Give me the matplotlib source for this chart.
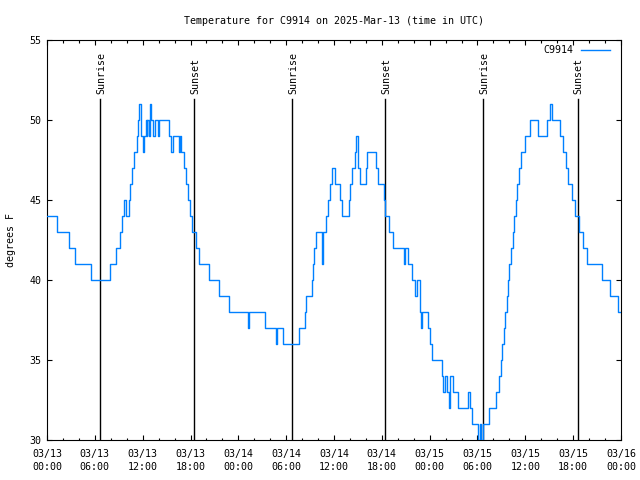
import matplotlib
matplotlib.use("Agg")
import matplotlib.pyplot as plt
from matplotlib.ticker import MultipleLocator

# Temperature change points for C9914
# hours after 2025-03-13 00:00 UTC, temperature in degrees F
hours = [0.0, 1.25, 2.75, 3.55, 5.55, 7.95, 8.65, 9.15, 9.35, 9.6,
         9.85, 10.25, 10.4, 10.65, 10.95, 11.25, 11.45, 11.6, 11.75, 12.05,
         12.2, 12.4, 12.5, 12.6, 12.75, 12.95, 13.1, 13.25, 13.6, 13.9,
         14.05, 15.3, 15.6, 15.75, 16.6, 16.7, 16.85, 17.15, 17.4, 17.65,
         17.9, 18.25, 18.7, 19.1, 20.35, 21.55, 22.85, 25.25, 25.4, 27.3,
         28.7, 28.85, 29.55, 31.6, 32.35, 32.5, 33.2, 33.35, 33.5, 33.7,
         34.45, 34.65, 34.95, 35.25, 35.5, 35.75, 36.1, 36.8, 37.0, 37.85,
         38.0, 38.3, 38.6, 38.8, 38.95, 39.05, 39.3, 40.0, 40.15, 41.25,
         41.5, 42.3, 42.45, 42.95, 43.4, 44.75, 44.9, 45.3, 45.8, 46.15,
         46.4, 46.75, 46.85, 46.95, 47.05, 47.8, 48.05, 48.35, 49.55, 49.7,
         49.9, 50.2, 50.45, 50.6, 50.95, 51.6, 52.75, 53.05, 53.3, 54.1,
         54.3, 54.4, 54.7, 55.4, 56.35, 56.65, 56.95, 57.1, 57.3, 57.5,
         57.65, 57.85, 58.0, 58.2, 58.4, 58.6, 58.8, 59.0, 59.2, 59.5,
         59.9, 60.6, 61.55, 62.75, 63.1, 63.4, 64.4, 64.75, 65.1, 65.4,
         65.8, 66.25, 66.7, 67.2, 67.7, 69.6, 70.6, 71.6, 72.0]
temps = [44, 43, 42, 41, 40, 41, 42, 43, 44, 45,
         44, 45, 46, 47, 48, 49, 50, 51, 49, 48,
         49, 50, 49, 50, 49, 51, 50, 49, 50, 49,
         50, 49, 48, 49, 48, 49, 48, 47, 46, 45,
         44, 43, 42, 41, 40, 39, 38, 37, 38, 37,
         36, 37, 36, 37, 38, 39, 40, 41, 42, 43,
         41, 43, 44, 45, 46, 47, 46, 45, 44, 45,
         46, 47, 48, 49, 48, 47, 46, 47, 48, 47,
         46, 45, 44, 43, 42, 41, 42, 41, 40, 39,
         40, 39, 38, 37, 38, 37, 36, 35, 34, 33,
         34, 33, 32, 34, 33, 32, 33, 32, 31, 30,
         31, 30, 31, 32, 33, 34, 35, 36, 37, 38,
         39, 40, 41, 42, 43, 44, 45, 46, 47, 48,
         49, 50, 49, 50, 51, 50, 49, 48, 47, 46,
         45, 44, 43, 42, 41, 40, 39, 38, 38]

sunrise = [6.7, 30.75, 54.72]
sunset = [18.45, 42.45, 66.55]

tick_hours = list(range(0, 73, 6))
tick_labels = ["03/13\n00:00", "03/13\n06:00", "03/13\n12:00", "03/13\n18:00",
               "03/14\n00:00", "03/14\n06:00", "03/14\n12:00", "03/14\n18:00",
               "03/15\n00:00", "03/15\n06:00", "03/15\n12:00", "03/15\n18:00",
               "03/16\n00:00"]

plt.rcParams['font.family'] = 'DejaVu Sans Mono'
plt.rcParams['font.size'] = 7.2

fig = plt.figure(figsize=(6.4, 4.8), dpi=100)
ax = fig.add_axes([47 / 640, 40 / 480, 574 / 640, 400 / 480])

ax.plot(hours, temps, drawstyle='steps-post', color='#0080ff', lw=1.0,
        label='C9914', zorder=3)

line_top = 51.3
for name, times in (("Sunrise", sunrise), ("Sunset", sunset)):
    for t in times:
        ax.plot([t, t], [30, line_top], color='black', lw=1.0, zorder=2)
        ax.annotate(name, (t, line_top), xytext=(1, 5), textcoords='offset pixels',
                    rotation=90, ha='center', va='bottom')

ax.set_xlim(0, 72)
ax.set_ylim(30, 55)
ax.set_xticks(tick_hours)
ax.set_xticklabels(tick_labels, linespacing=1.35)
ax.xaxis.set_minor_locator(MultipleLocator(2))
ax.set_yticks(range(30, 56, 5))
ax.tick_params(which='both', direction='in', top=True, right=True, width=0.8)
ax.tick_params(which='major', length=3.6)
ax.tick_params(which='minor', length=1.8)
ax.tick_params(axis='x', pad=6.5)
ax.tick_params(axis='y', pad=4)
for s in ax.spines.values():
    s.set_linewidth(0.8)

ax.set_ylabel("degrees F", labelpad=10)
ax.set_title("Temperature for C9914 on 2025-Mar-13 (time in UTC)",
             fontsize=7.2, pad=11.5)

ax.legend(loc='upper right', bbox_to_anchor=(0.993, 1.005), frameon=False,
          markerfirst=False, handlelength=2.9, handletextpad=0.8,
          borderaxespad=0.4, borderpad=0.3)

fig.savefig("out.png", dpi=100)
